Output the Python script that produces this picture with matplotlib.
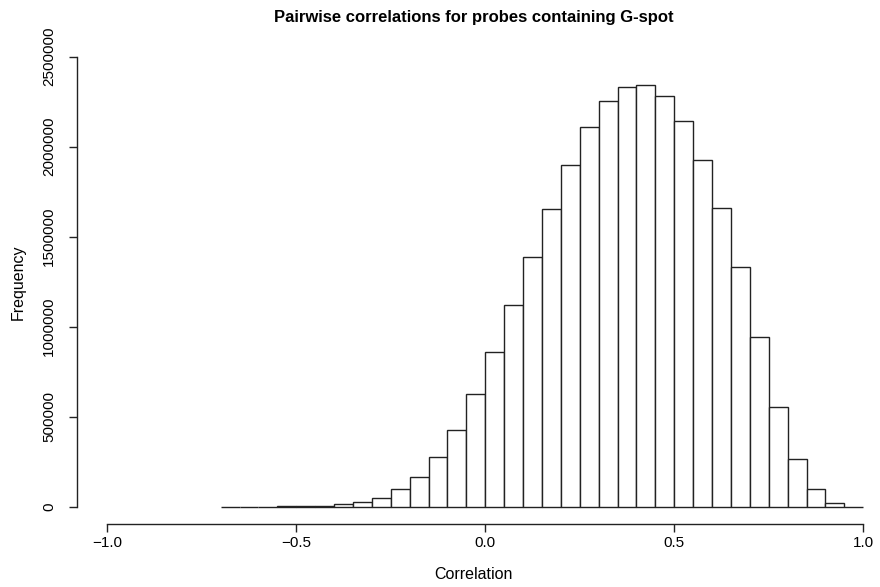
import matplotlib
matplotlib.use("Agg")
import matplotlib.pyplot as plt
import numpy as np

plt.rcParams['font.family'] = ['Liberation Sans', 'DejaVu Sans']

# histogram bins: left edges from -0.70 to 0.95, width 0.05
bin_left = np.round(np.arange(-0.70, 0.999, 0.05), 2)
bin_width = 0.05
counts = [200, 400, 800, 1500, 3000, 6000, 15000, 28000, 50000, 97000,
          163000, 274000, 426000, 624000, 859000, 1120000, 1389000, 1656000,
          1897000, 2108000, 2252000, 2333000, 2341000, 2282000, 2144000,
          1926000, 1658000, 1333000, 944000, 556000, 267000, 96000, 19000, 1000]

x_ticks = [-1.0, -0.5, 0.0, 0.5, 1.0]
x_ticklabels = ['\u22121.0', '\u22120.5', '0.0', '0.5', '1.0']
y_ticks = [0, 500000, 1000000, 1500000, 2000000, 2500000]

fig = plt.figure(figsize=(8.8, 5.87), dpi=100)
ax = fig.add_axes([0.0875, 0.1065, 0.9011, 0.8254])

ax.bar(bin_left, counts, width=bin_width, align='edge',
       facecolor='white', edgecolor='#222222', linewidth=1.0)

ax.set_xlim(-1.080, 1.0177)
ax.set_ylim(-98900, 2592800)

for s in ['top', 'right']:
    ax.spines[s].set_visible(False)
for s in ['left', 'bottom']:
    ax.spines[s].set_linewidth(1.0)
    ax.spines[s].set_color('#222222')
ax.spines['left'].set_bounds(0, 2500000)
ax.spines['bottom'].set_bounds(-1.0, 1.0)

ax.set_xticks(x_ticks)
ax.set_xticklabels(x_ticklabels)
ax.set_yticks(y_ticks)
ax.set_yticklabels([str(v) for v in y_ticks], rotation=90, va='center')
ax.tick_params(axis='both', direction='out', length=6, width=1.0,
               color='#222222', labelsize=11)
ax.tick_params(axis='x', pad=2.5)
ax.tick_params(axis='y', pad=9)

ax.set_xlabel('Correlation', fontsize=11.5, labelpad=12)
ax.set_ylabel('Frequency', fontsize=11.5, labelpad=12)
ax.set_title('Pairwise correlations for probes containing G-spot',
             fontsize=12, fontweight='bold', pad=13)

fig.savefig('out.png', dpi=100)
